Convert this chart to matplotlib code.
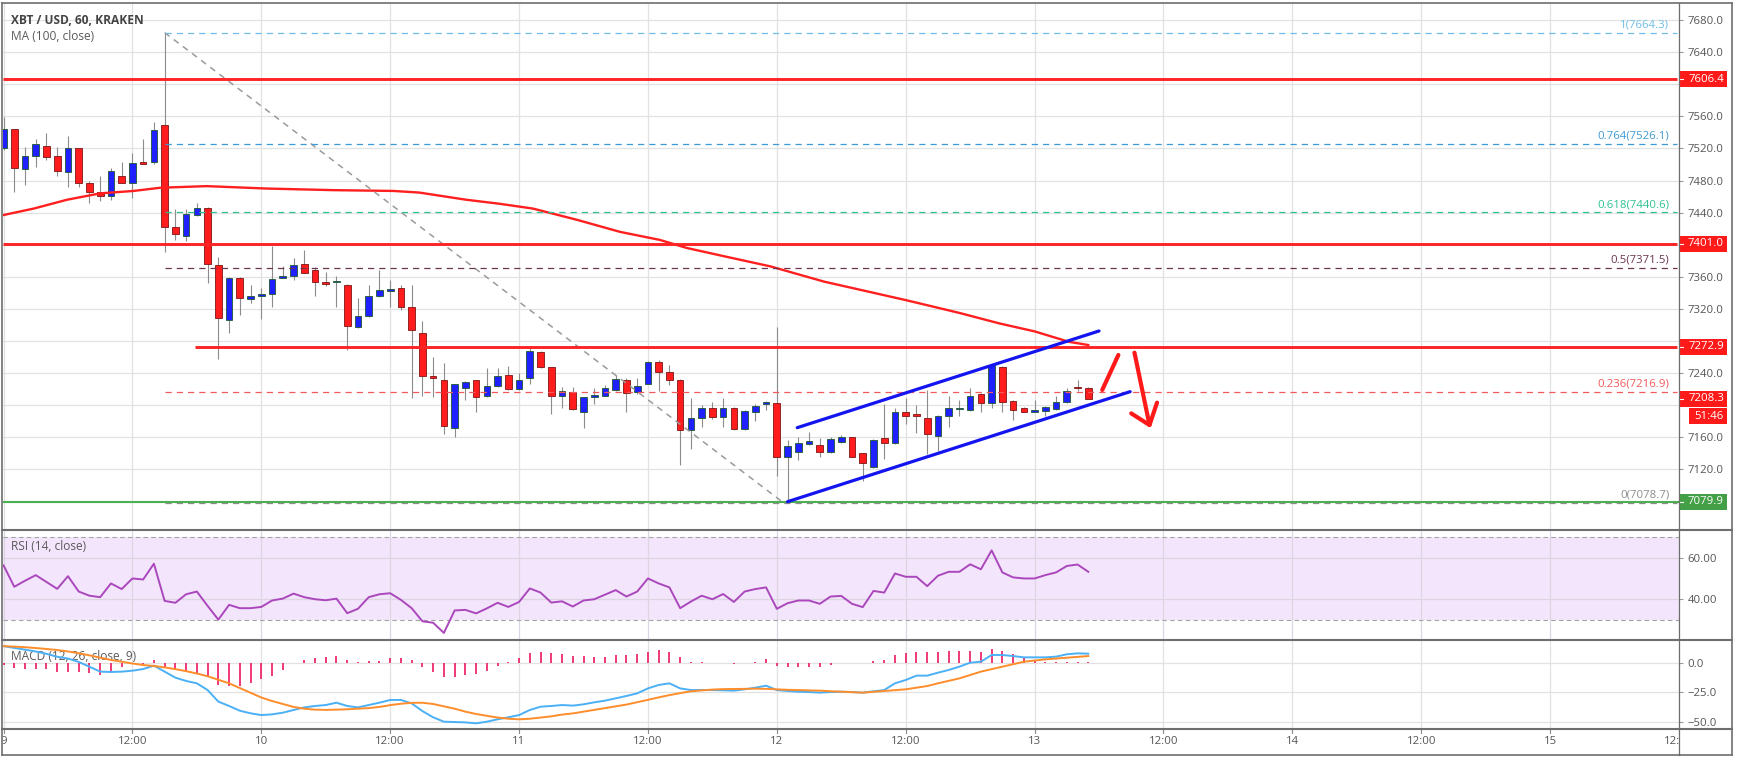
import numpy as np
import matplotlib
matplotlib.use("Agg")
import matplotlib.pyplot as plt
from matplotlib.patches import Rectangle
from matplotlib.lines import Line2D

plt.rcParams['font.family'] = ['Open Sans', 'DejaVu Sans']

# hourly candles, XBT/USD Kraken, hour 0 = 9 Nov 00:00
opens = [7520, 7544, 7494, 7510, 7523, 7510, 7490, 7521, 7477, 7466,
         7461, 7486, 7477, 7502, 7503, 7549, 7422, 7411, 7437, 7446,
         7375, 7306, 7358, 7332, 7336, 7338, 7359, 7361, 7376, 7368,
         7353, 7353, 7350, 7297, 7311, 7336, 7342, 7346, 7322, 7290,
         7236, 7231, 7172, 7222, 7231, 7212, 7224, 7238, 7220, 7234,
         7266, 7247, 7212, 7217, 7192, 7210, 7212, 7219, 7232, 7216,
         7227, 7254, 7242, 7232, 7169, 7184, 7197, 7185, 7197, 7170,
         7192, 7202, 7203, 7135, 7142, 7152, 7150, 7142, 7154, 7160,
         7140, 7123, 7159, 7153, 7191, 7189, 7184, 7162, 7187, 7195,
         7194, 7214, 7203, 7248, 7205, 7197, 7192, 7193, 7195, 7204,
         7222, 7222]
highs = [7559, 7544, 7522, 7532, 7539, 7522, 7535, 7521, 7479, 7485,
         7495, 7503, 7514, 7532, 7553, 7664.3, 7445, 7445, 7452, 7447,
         7385, 7360, 7360, 7350, 7346, 7398, 7373, 7384, 7393, 7372,
         7366, 7361, 7351, 7333, 7350, 7368, 7356, 7350, 7350, 7305,
         7260, 7253, 7226, 7230, 7232, 7246, 7246, 7249, 7240, 7274,
         7267, 7248, 7223, 7223, 7210, 7222, 7225, 7238, 7234, 7234,
         7255, 7256, 7250, 7233, 7209, 7200, 7204, 7209, 7198, 7194,
         7202, 7205, 7298, 7157, 7160, 7167, 7159, 7160, 7163, 7161,
         7141, 7158, 7202, 7196, 7209, 7200, 7219, 7188, 7211, 7207,
         7222, 7215, 7251, 7249, 7206, 7198, 7207, 7199, 7212, 7222,
         7231, 7223]
lows = [7518, 7466, 7474, 7497, 7505, 7485, 7472, 7472, 7452, 7455,
        7456, 7477, 7458, 7500, 7500, 7391, 7406, 7405, 7436, 7352,
        7258, 7290, 7312, 7327, 7308, 7323, 7358, 7356, 7365, 7336,
        7348, 7323, 7269, 7296, 7310, 7335, 7323, 7319, 7209, 7211,
        7210, 7164, 7161, 7207, 7191, 7210, 7223, 7219, 7219, 7227,
        7246, 7189, 7197, 7194, 7171, 7202, 7211, 7218, 7192, 7214,
        7226, 7218, 7225, 7126, 7146, 7173, 7183, 7173, 7169, 7169,
        7180, 7194, 7112, 7078.7, 7132, 7150, 7135, 7141, 7153, 7135,
        7105, 7122, 7133, 7152, 7177, 7165, 7139, 7143, 7173, 7187,
        7193, 7191, 7197, 7191, 7181, 7191, 7191, 7187, 7194, 7203,
        7218, 7208]
closes = [7544, 7496, 7510, 7525, 7509, 7492, 7521, 7477, 7466, 7461,
          7492, 7477, 7502, 7501, 7543, 7422, 7413, 7438, 7446, 7376,
          7309, 7358, 7333, 7336, 7339, 7357, 7361, 7375, 7365, 7353,
          7351, 7354, 7299, 7311, 7336, 7343, 7345, 7323, 7294, 7236,
          7234, 7174, 7226, 7229, 7210, 7224, 7236, 7220, 7231, 7267,
          7247, 7212, 7218, 7195, 7210, 7213, 7222, 7233, 7215, 7224,
          7254, 7242, 7232, 7169, 7184, 7197, 7185, 7197, 7170, 7193,
          7199, 7204, 7135, 7149, 7153, 7155, 7142, 7158, 7160, 7136,
          7128, 7157, 7153, 7191, 7186, 7186, 7164, 7187, 7196, 7197,
          7211, 7203, 7250, 7204, 7194, 7192, 7194, 7198, 7204, 7218,
          7221, 7208.3]

# MA(100) read at a few points
ma_hours = [0, 2.8, 5.9, 9, 12.1, 14.6, 18.9, 24.5, 30.7, 36.3, 38.7, 43.1,
            46.2, 49.3, 53.4, 57.4, 61.1, 63.6, 67.3, 71.4, 76.4, 84, 89,
            92.7, 96, 99.2, 101]
ma_values = [7437, 7445, 7456, 7464, 7467, 7471, 7473, 7470, 7468, 7467,
             7465, 7456, 7451, 7445, 7431, 7416, 7406, 7396, 7385, 7373,
             7354, 7331, 7315, 7302, 7292, 7279, 7275]

rsi = [56.3, 46, 48.9, 51.6, 48.3, 45, 51.1, 43.7, 41.7, 41,
       47.6, 44.9, 50, 49.5, 57.1, 39.2, 38.3, 42.4, 43.7, 36.8,
       30.2, 37.3, 35.7, 35.7, 36.3, 39.4, 40.3, 42.7, 41, 40,
       39.5, 40.3, 33.3, 35.4, 41, 42.4, 42.9, 39.7, 35.7, 29.4,
       28.7, 23.8, 34.6, 34.9, 33.2, 35.6, 38.3, 36.3, 38.7, 45.2,
       43.2, 38.4, 39, 36.5, 39.4, 40, 42.2, 44.4, 41.3, 43.7,
       50, 47.6, 45.7, 35.7, 38.9, 41.7, 40, 42.5, 38.7, 43.7,
       44.9, 45.7, 35.4, 38.1, 39.4, 39.4, 37.8, 41.3, 41.6, 37.8,
       36.2, 44, 43.2, 52.4, 50.8, 50.8, 46.3, 51.3, 53.2, 53.2,
       56.8, 54.4, 63.5, 52.9, 50.5, 50, 50, 51.6, 52.9, 56,
       56.7, 53.2]

macd = [14, 12.5, 11, 9.5, 7.5, 5, 3.5, 0.6, -3.4, -7.6,
        -7.9, -7.6, -6.8, -5.4, -2.5, -7.6, -12.7, -15.5, -17.5, -23.2,
        -33, -36.7, -40.7, -42.9, -44.4, -43.8, -42.4, -40.1, -37.9, -36.7,
        -35.9, -33.9, -36.7, -37.9, -35.9, -33.9, -31.6, -31.6, -34.5, -41,
        -46.3, -50, -50.3, -50.6, -51.4, -50, -48, -46.3, -44.4, -40.1,
        -37.3, -36.7, -35.9, -36.4, -35.3, -33.6, -32.2, -30.2, -28.2, -26,
        -21.8, -18.9, -17.5, -21.8, -23.2, -23.2, -23.2, -23.4, -23.7, -22.6,
        -21.2, -19.5, -23.2, -24, -24.6, -24.9, -25.4, -24.9, -24.6, -24.9,
        -25.4, -24.3, -23.2, -17.5, -14.7, -11, -11, -8.5, -6.2, -3.4,
        0, 0.8, 6.5, 6.5, 5.6, 4.5, 4.5, 4.5, 5.1, 7.1,
        7.9, 7.6]
signal = [14, 13.6, 13.1, 12.4, 11.6, 10.7, 9.5, 8, 6.2, 4.2,
          2.3, 0.8, -0.7, -2, -2.8, -4, -5.5, -7.2, -9.2, -11.5,
          -14.5, -17.5, -21.5, -25.5, -29.5, -32.5, -35, -37.5, -39, -39.8,
          -40, -39.8, -39.5, -39, -38.5, -37.5, -36, -34.8, -34, -34,
          -35, -37, -39, -41.5, -43.5, -45, -46.5, -47.5, -48, -47.5,
          -46.5, -45.5, -44, -43, -41.5, -40, -38.5, -37, -35.5, -33.5,
          -31.5, -29.4, -27.5, -25.8, -24.3, -23.5, -22.8, -22.4, -22.3, -22.2,
          -22, -22.2, -22.6, -23, -23.2, -23.5, -23.7, -24.2, -24.6, -25,
          -25.4, -24.7, -24, -23.3, -22.6, -21.2, -19.8, -17.5, -15.4, -13.3,
          -10.5, -7.6, -5.5, -3.4, -1.3, 0.8, 1.8, 2.8, 3.5, 4.2,
          4.9, 5.6]
hist = [-2, -4.2, -5.4, -5, -5.6, -7.6, -7.6, -7.6, -9, -10.5,
        -7.6, -3.4, -1.1, -1.1, 2.3, -3.4, -6.2, -7.6, -8.5, -11.9,
        -18.9, -19.8, -19.8, -17.5, -14.1, -11.3, -6.2, -0.6, 2.3, 4.2,
        5.1, 5.6, 2.3, 0.3, 1.7, 1.7, 4.2, 3.7, 2.3, -3.4,
        -7.6, -12.4, -12.4, -10.7, -9.9, -7.1, -2.8, 0.3, 4.2, 8.5,
        9.3, 7.9, 7.1, 5.6, 5.6, 5.1, 5.1, 6.5, 6.5, 7.3,
        9.3, 10.7, 9.3, 5.1, 0.8, 0.3, 0, 0, -1.4, -0.6,
        0.8, 2.8, -2.5, -3.4, -3.4, -3.4, -3.4, -2, -0.3, -0.3,
        -0.6, 1.7, 2.3, 6.5, 8.5, 9.3, 8.8, 8.8, 9.9, 9.9,
        9.9, 9, 11.3, 9.9, 7.1, 5.1, 1.7, 0.8, 0.8, 0.8,
        0.8, 0.8]

time_ticks = [0, 12, 24, 36, 48, 60, 72, 84, 96, 108, 120, 132, 144, 156]
time_labels = ['9', '12:00', '10', '12:00', '11', '12:00', '12', '12:00',
               '13', '12:00', '14', '12:00', '15', '12:00']
price_ticks = [7080, 7120, 7160, 7200, 7240, 7280, 7320, 7360, 7400,
               7440, 7480, 7520, 7560, 7600, 7640, 7680]
hidden_ticks = [7080, 7200, 7280, 7400, 7600]   # covered by the price tags

fib_levels = [1, 0.764, 0.618, 0.5, 0.236, 0]
fib_prices = [7664.3, 7526.1, 7440.6, 7371.5, 7216.9, 7078.7]
fib_colors = ['#6fbce8', '#3d9ad6', '#2fc191', '#6b3550', '#f05a5a', '#8c8c8c']
fib_start = 15          # hour of the swing high
fib_end = 72.6          # hour of the swing low

red_levels = [7606.4, 7401.0, 7272.9]
red_starts = [None, None, 17.8]
green_level = 7079.9
last_price = 7208.3
countdown = '51:46'

channel_upper = ([73.9, 102.0], [7172, 7292.5])
channel_lower = ([73.0, 104.9], [7079.8, 7216.9])
arrow_up = ([102.3, 103.8], [7219, 7262.6])
arrow_down = ([105.3, 106.7], [7265.5, 7175.3])
arrow_head = ([105.0, 106.7, 107.4], [7189.8, 7175.3, 7203.2])

# ---------------- layout (pixels of a 1737x760 picture) ----------------
W, H = 1737, 760
L, R = 3, 1679
XMIN, XMAX = -0.05, 155.86
GRID = '#e2e2e2'
FRAME = '#6e6e6e'
TXT = '#555555'
FS = 8.2

fig = plt.figure(figsize=(W / 100, H / 100), dpi=100)
fig.patch.set_facecolor('white')


def pane(top, bottom):
    return fig.add_axes([L / W, 1 - bottom / H, (R - L) / W, (bottom - top) / H])


ax = pane(3, 530)
ax_rsi = pane(530, 640)
ax_macd = pane(640, 729)
ax_t = pane(729, 755)

for a in (ax, ax_rsi, ax_macd, ax_t):
    a.set_xlim(XMIN, XMAX)
    for s in a.spines.values():
        s.set_visible(False)
    a.set_xticks(time_ticks)
    a.tick_params(axis='x', bottom=False, labelbottom=False)
    a.tick_params(axis='y', left=False, labelleft=False, right=True, labelright=True,
                  length=3, width=0.8, color='#9a9a9a', labelsize=FS,
                  labelcolor=TXT, pad=3)
    a.set_axisbelow(True)

# ---------------- price pane ----------------
ax.set_ylim(7044.5, 7701.2)
ax.set_yticks(price_ticks)
ax.set_yticklabels(['' if p in hidden_ticks else f'{p:.1f}' for p in price_ticks])
ax.grid(True, color=GRID, lw=0.9)

hours = np.arange(len(opens))
o = np.array(opens, float)
c = np.array(closes, float)
up = c >= o
body_lo = np.minimum(o, c)
body_h = np.maximum(np.abs(c - o), 1.6)
fills = np.where(up, '#1f1fff', '#ff1c1c')
edges = np.where(up, '#1d5a2c', '#7d1414')
ax.vlines(hours, lows, highs, color='#8c8c8c', lw=0.8, zorder=3)
ax.bar(hours, body_h, bottom=body_lo, width=0.62, color=fills,
       edgecolor=edges, linewidth=0.6, zorder=4)

ax.plot(ma_hours, ma_values, color='#ff1f1f', lw=1.7, zorder=5)

# fib retracement
ax.plot([fib_start, fib_end], [fib_prices[0], fib_prices[-1]], color='#9a9a9a',
        lw=1.1, ls=(0, (4, 3.5)), zorder=5)
for lv, p, col in zip(fib_levels, fib_prices, fib_colors):
    ax.hlines(p, fib_start, XMAX, color=col, lw=0.9, ls=(0, (5, 4)), zorder=6)
    ax.annotate(f'{lv:g}({p})', (155.1, p), xytext=(0, 1.5), textcoords='offset points',
                ha='right', va='bottom', color=col, fontsize=FS, zorder=7)

# horizontal levels
ax.axhline(green_level, color='#4caf50', lw=1.5, zorder=5)
for p, st in zip(red_levels, red_starts):
    ax.hlines(p, XMIN if st is None else st, XMAX, color='#ff2424', lw=2.1, zorder=6)

# channel and arrows
for xs, ys in (channel_upper, channel_lower):
    ax.plot(xs, ys, color='#1414f0', lw=2.3, solid_capstyle='round', zorder=7)
for xs, ys in (arrow_up, arrow_down, arrow_head):
    ax.plot(xs, ys, color='#ff1a1a', lw=3.0, solid_capstyle='round',
            solid_joinstyle='round', zorder=7)

ax.text(8 / (R - L), 1 - 17 / 527, 'XBT / USD, 60, KRAKEN', transform=ax.transAxes,
        fontsize=8.6, fontweight='bold', color='#444444', va='center', ha='left')
ax.text(8 / (R - L), 1 - 33 / 527, 'MA (100, close)', transform=ax.transAxes,
        fontsize=8.6, color='#5a5a5a', va='center', ha='left')

# price tags on the right scale
ytr = ax.get_yaxis_transform()
units_per_px = (7701.2 - 7044.5) / 527


def tag(y, text, color, x0=1679, x1=1727, hpx=16, dash=True):
    h = hpx * units_per_px
    ax.add_patch(Rectangle(((x0 - L) / (R - L), y - h / 2), (x1 - x0) / (R - L), h,
                           transform=ytr, clip_on=False, fc=color, ec='none', zorder=8))
    ax.text((x1 - 3 - L) / (R - L), y, text, transform=ytr, ha='right', va='center',
            color='white', fontsize=FS, clip_on=False, zorder=9)
    if dash:
        ax.plot([(x0 + 1 - L) / (R - L), (x0 + 4 - L) / (R - L)], [y, y], transform=ytr,
                color='white', lw=0.8, clip_on=False, zorder=9)


for p in red_levels:
    tag(p, f'{p:.1f}', '#ff1a1a')
tag(last_price, f'{last_price:.1f}', '#ff1a1a')
tag(last_price - 17.7 * units_per_px, countdown, '#ff1a1a', x0=1689, dash=False)
tag(green_level, f'{green_level:.1f}', '#43a047')

# ---------------- RSI pane ----------------
ax_rsi.set_ylim(20.4, 73.3)
ax_rsi.set_yticks([40, 60])
ax_rsi.set_yticklabels(['40.00', '60.00'])
ax_rsi.grid(True, color='#dcd6e3', lw=0.9)
ax_rsi.axhspan(30, 70, color='#f3e6fc', zorder=0.5, lw=0)
for lv in (30, 70):
    ax_rsi.axhline(lv, color='#a4a4a4', lw=0.8, ls=(0, (4, 3)), zorder=2)
ax_rsi.plot(hours, rsi, color='#ab47bc', lw=1.4, zorder=4)
ax_rsi.text(8 / (R - L), 1 - 17 / 110, 'RSI (14, close)', transform=ax_rsi.transAxes,
            fontsize=8.6, color='#5a5a5a', va='center', ha='left')

# ---------------- MACD pane ----------------
ax_macd.set_ylim(-56.2, 19.2)
ax_macd.set_yticks([-50, -25, 0])
ax_macd.set_yticklabels(['\u221250.0', '\u221225.0', '0.0'])
ax_macd.grid(True, color=GRID, lw=0.9)
ax_macd.vlines(hours, 0, hist, color='#ee2a6b', lw=1.3, zorder=3)
ax_macd.plot(hours, macd, color='#4bb0f5', lw=1.4, zorder=4)
ax_macd.plot(hours, signal, color='#ff8d2b', lw=1.4, zorder=4)
ax_macd.text(8 / (R - L), 1 - 17 / 89, 'MACD (12, 26, close, 9)', transform=ax_macd.transAxes,
             fontsize=8.6, color='#5a5a5a', va='center', ha='left')

# ---------------- time axis ----------------
ax_t.set_ylim(0, 1)
ax_t.tick_params(axis='y', right=False, labelright=False)
for t, lab in zip(time_ticks, time_labels):
    ax_t.text(t, 0.5, lab, ha='center', va='center', fontsize=FS, color=TXT, clip_on=True)
    ax_t.plot([t, t], [1, 0.84], color='#8a8a8a', lw=0.8, clip_on=True)

# ---------------- frame ----------------


def fline(xs, ys, lw=1.2, color=FRAME):
    fig.add_artist(Line2D([x / W for x in xs], [1 - y / H for y in ys],
                          color=color, lw=lw))


fline([2, 1732], [3, 3])
fline([2, 1732], [755, 755])
fline([2, 2], [3, 755])
fline([1732, 1732], [3, 755])
fline([1679, 1679], [3, 755], lw=0.9)
for y in (530, 640, 729):
    fline([2, 1732], [y, y], lw=1.5)

fig.savefig('out.png', dpi=100, facecolor='white')
